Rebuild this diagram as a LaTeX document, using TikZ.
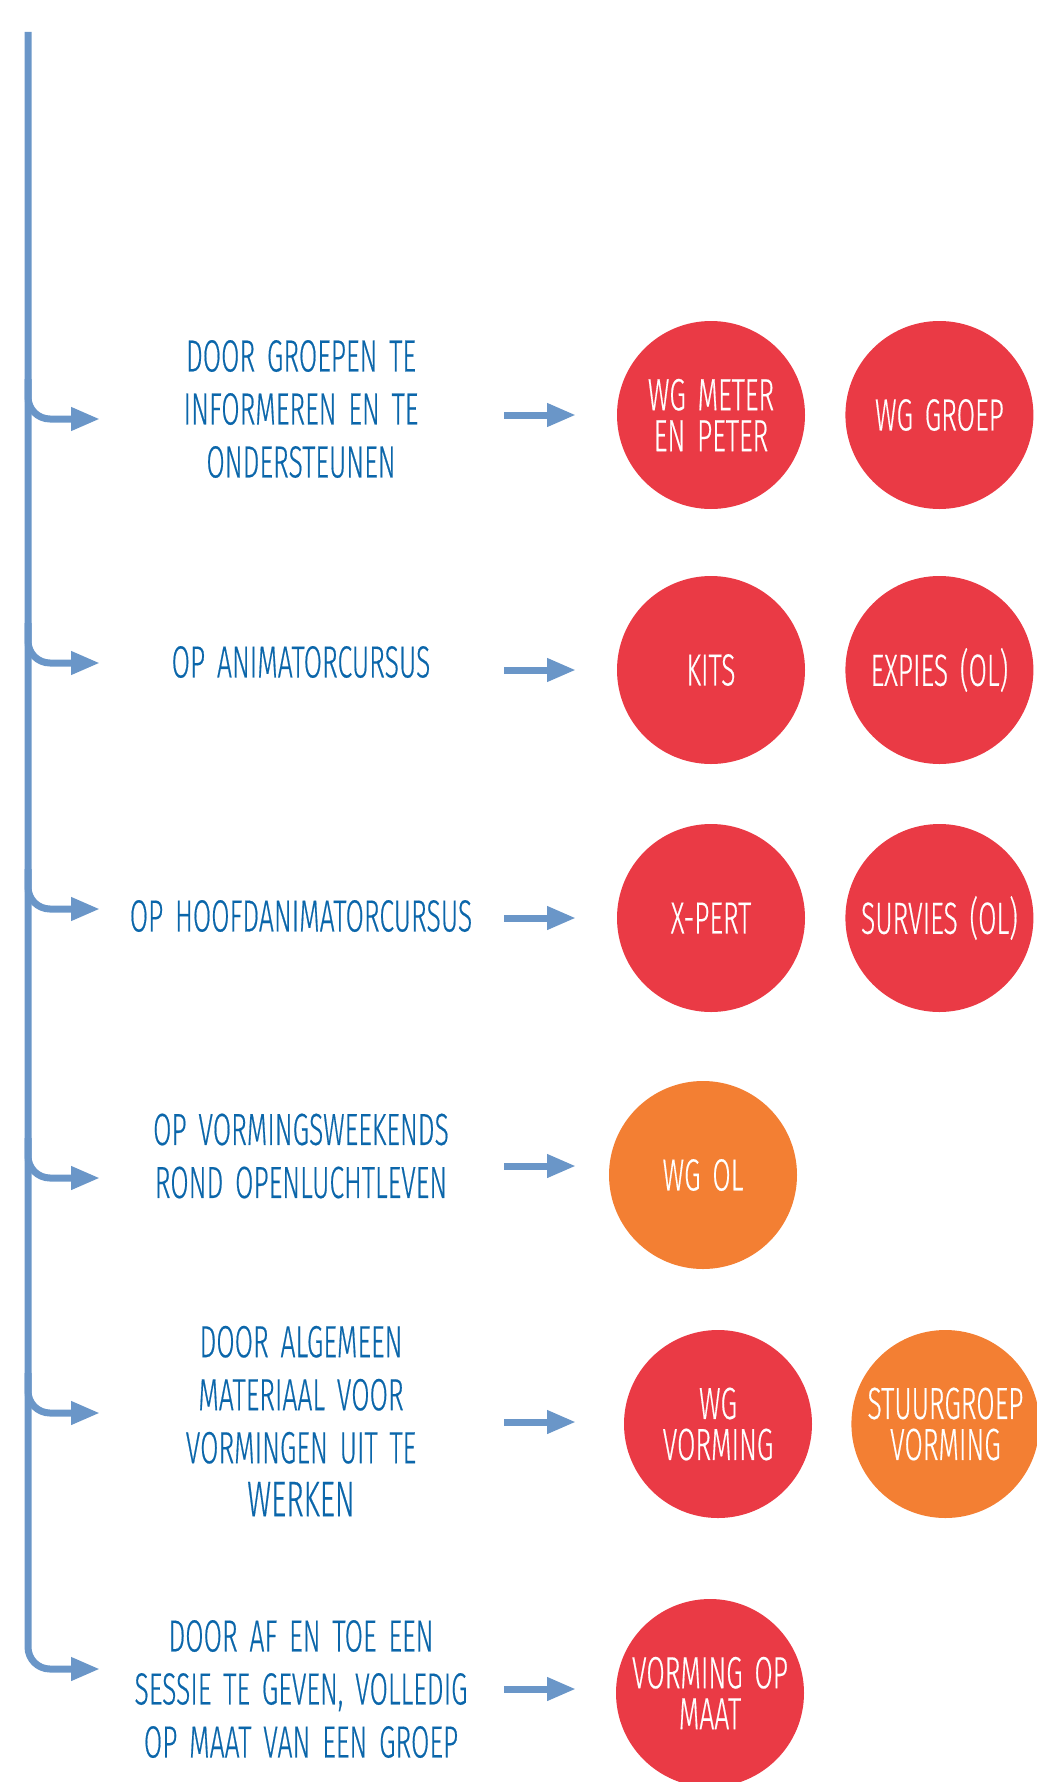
\documentclass[tikz,border=0pt]{standalone}
\usepackage{fontspec}
\setmainfont{Fira Sans Light}[FakeStretch=0.59, WordSpace=1.6, FakeBold=0.4]
\usetikzlibrary{arrows.meta,positioning}

\definecolor{lineblue}{HTML}{6A96C8}
\definecolor{textblue}{HTML}{0B66AA}
\definecolor{bubred}{HTML}{EA3A45}
\definecolor{buborange}{HTML}{F37F33}

\tikzset{
  flow/.style={draw=lineblue, line width=7pt, rounded corners=22pt, -{Triangle[length=29pt,width=22pt]}},
  arr/.style={draw=lineblue, line width=7pt, -{Triangle[length=29pt,width=22pt]}},
  reason/.style={text=textblue, align=center, font=\fontsize{45}{53}\selectfont},
  bubble/.style={circle, minimum size=188pt, inner sep=0pt, text=white, align=center, font=\fontsize{45}{41}\selectfont},
  redbub/.style={bubble, fill=bubred},
  orangebub/.style={bubble, fill=buborange}
}

\begin{document}
\begin{tikzpicture}[x=1pt, y=-1pt, node distance=40pt]
\useasboundingbox (0,0) rectangle (1036,1782);

% trunk and branches
\coordinate (top) at (28,32);
\coordinate (b1) at (100,419);
\coordinate (b2) at (100,663);
\coordinate (b3) at (100,909);
\coordinate (b4) at (100,1178);
\coordinate (b5) at (100,1413);
\coordinate (b6) at (100,1669);

\draw[flow] (top) |- (b6);
\foreach \b in {b1,b2,b3,b4,b5}
  \draw[flow] ([yshift=40pt]\b -| top) |- (\b);

% reasons
\node[reason] (t1) at (301,409) {DOOR GROEPEN TE\\INFORMEREN EN TE\\ONDERSTEUNEN};
\node[reason] (t2) at (301,662) {OP ANIMATORCURSUS};
\node[reason] (t3) at (301,916) {OP HOOFDANIMATORCURSUS};
\node[reason] (t4) at (301,1156) {OP VORMINGSWEEKENDS\\ROND OPENLUCHTLEVEN};
\node[reason] (t5) at (301,1421) {DOOR ALGEMEEN\\MATERIAAL VOOR\\VORMINGEN UIT TE\\{\fontsize{50}{53}\selectfont WERKEN}};
\node[reason] (t6) at (301,1689) {DOOR AF EN TOE EEN\\SESSIE TE GEVEN, VOLLEDIG\\OP MAAT VAN EEN GROEP};

% arrows to the groups
\foreach \i/\y in {1/415,2/670,3/918,4/1166,5/1422,6/1689}{
  \coordinate (s\i) at (504,\y);
  \coordinate (e\i) at (576,\y);
  \draw[arr] (s\i) -- (e\i);
}

% groups
\node[redbub] (c1a) at (711,415) {WG METER\\EN PETER};
\node[redbub, right=of c1a] (c1b) {WG GROEP};
\node[redbub] (c2a) at (711,670) {KITS};
\node[redbub, right=of c2a] (c2b) {EXPIES (OL)};
\node[redbub] (c3a) at (711,918) {X-PERT};
\node[redbub, right=of c3a] (c3b) {SURVIES (OL)};
\node[orangebub] (c4a) at (703,1175) {WG OL};
\node[redbub] (c5a) at (718,1424) {WG\\VORMING};
\node[orangebub, right=39pt of c5a] (c5b) {STUURGROEP\\VORMING};
\node[redbub] (c6a) at (710,1693) {VORMING OP\\MAAT};
\end{tikzpicture}
\end{document}
